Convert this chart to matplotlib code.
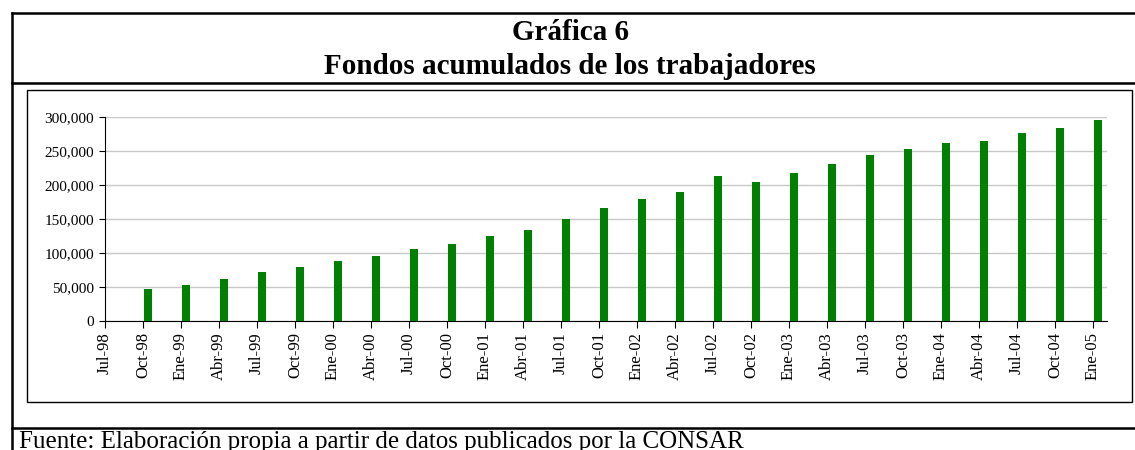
import numpy as np
import matplotlib.pyplot as plt
from matplotlib.lines import Line2D
from matplotlib.patches import Rectangle
from matplotlib.ticker import FuncFormatter

plt.rcParams['font.family'] = ['Liberation Serif', 'DejaVu Serif']

# quarterly labels and accumulated funds
labels = ['Jul-98', 'Oct-98', 'Ene-99', 'Abr-99', 'Jul-99', 'Oct-99', 'Ene-00',
          'Abr-00', 'Jul-00', 'Oct-00', 'Ene-01', 'Abr-01', 'Jul-01', 'Oct-01',
          'Ene-02', 'Abr-02', 'Jul-02', 'Oct-02', 'Ene-03', 'Abr-03', 'Jul-03',
          'Oct-03', 'Ene-04', 'Abr-04', 'Jul-04', 'Oct-04', 'Ene-05']
fondos = [0, 47000, 52500, 61800, 71600, 78900, 88700,
          96100, 105400, 113200, 124500, 134300, 149500, 166700,
          179400, 189200, 213700, 204400, 217600, 230900, 244600,
          253400, 261300, 265200, 276500, 283800, 295600]
yticks = [0, 50000, 100000, 150000, 200000, 250000, 300000]

W, H = 1135, 450
fig = plt.figure(figsize=(W / 100, H / 100), dpi=100)


def fx(px):
    return px / W


def fy(py):
    return 1 - py / H


# frame lines of the page box
lw_thick = 1.8
fig.add_artist(Line2D([fx(12), 1], [fy(13), fy(13)], color='black', lw=lw_thick))
fig.add_artist(Line2D([fx(12), 1], [fy(83), fy(83)], color='black', lw=lw_thick))
fig.add_artist(Line2D([fx(12), 1], [fy(428), fy(428)], color='black', lw=lw_thick))
fig.add_artist(Line2D([fx(12), fx(12)], [fy(13), 0], color='black', lw=lw_thick))
fig.add_artist(Rectangle((fx(27), fy(402)), fx(1132) - fx(27), fy(90) - fy(402),
                         fill=False, edgecolor='black', lw=1.0,
                         transform=fig.transFigure))

fig.text(fx(570), fy(33), 'Gráfica 6', ha='center', va='center',
         fontsize=21, fontweight='bold')
fig.text(fx(570), fy(66), 'Fondos acumulados de los trabajadores', ha='center',
         va='center', fontsize=21, fontweight='bold')
fig.text(fx(19), fy(431), 'Fuente: Elaboración propia a partir de datos publicados por la CONSAR',
         ha='left', va='top', fontsize=18)

ax = fig.add_axes([fx(105), fy(321), fx(1107) - fx(105), fy(117) - fy(321)])
x = np.arange(len(labels))
ax.bar(x + 0.02, fondos, width=0.23, align='edge', color='#008000', zorder=3)

ax.set_xlim(0, 26.37)
ax.set_ylim(0, 300000)
ax.set_xticks(x)
ax.set_xticklabels(labels, rotation=90, fontsize=12)
ax.set_yticks(yticks)
ax.yaxis.set_major_formatter(FuncFormatter(lambda v, p: f'{int(v):,}'))
ax.tick_params(axis='y', labelsize=11, length=4, width=0.8, pad=4)
ax.tick_params(axis='x', length=5, width=0.8, pad=3)
ax.grid(axis='y', color='#c8c8c8', lw=1.0, zorder=0)
for s in ['top', 'right']:
    ax.spines[s].set_visible(False)
ax.spines['left'].set_linewidth(0.8)
ax.spines['bottom'].set_linewidth(0.8)

fig.savefig('out.png', dpi=100)
